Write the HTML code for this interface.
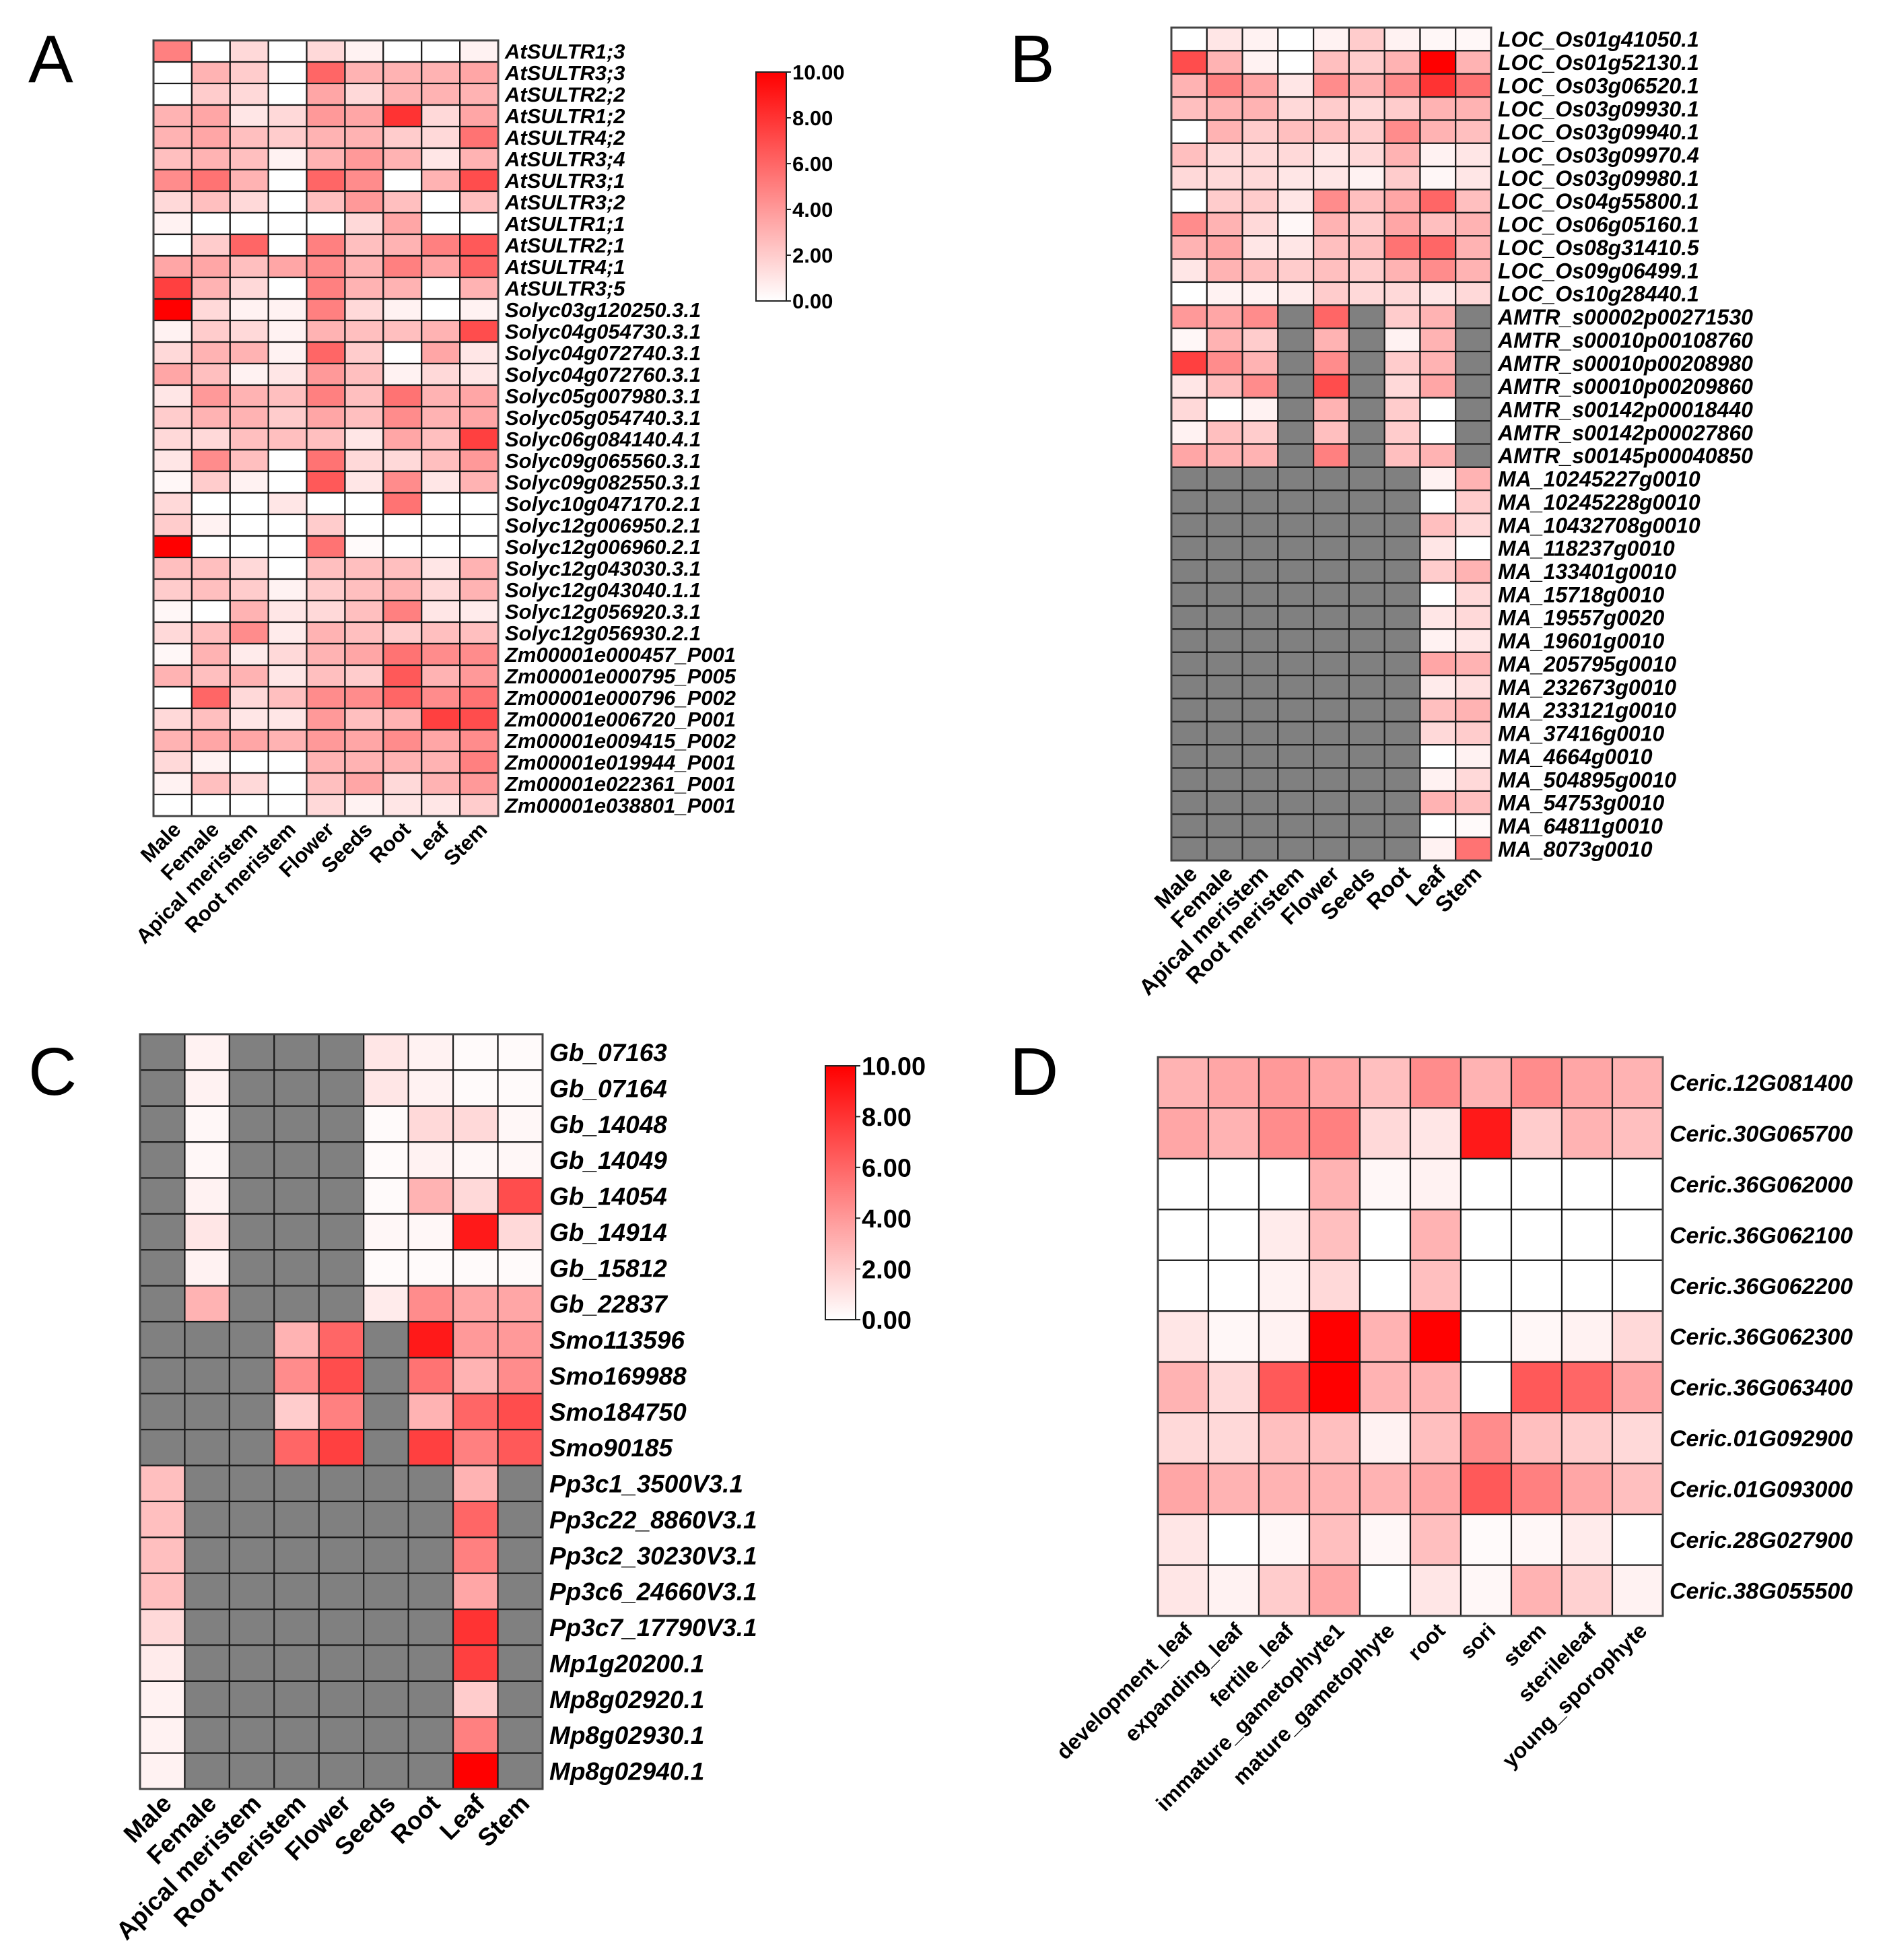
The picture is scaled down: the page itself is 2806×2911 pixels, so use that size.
<!DOCTYPE html>
<html><head><meta charset="utf-8"><style>
html,body{margin:0;padding:0;background:#fff;}
svg{display:block;}
text{font-family:"Liberation Sans",Arial,sans-serif;font-weight:bold;}
</style></head><body>
<svg id="fig" xmlns="http://www.w3.org/2000/svg" width="2806" height="2911" viewBox="0 0 2806 2911">
<defs>
<linearGradient id="cbgrad" x1="0" y1="1" x2="0" y2="0">
<stop offset="0" stop-color="#ffffff"/><stop offset="1" stop-color="#ff0000"/>
</linearGradient>
</defs>
<text x="42" y="122" font-size="100" style="font-weight:normal">A</text>
<text x="1500" y="122" font-size="100" style="font-weight:normal">B</text>
<text x="42" y="1626" font-size="100" style="font-weight:normal">C</text>
<text x="1500" y="1626" font-size="100" style="font-weight:normal">D</text>
</svg>
<script>
// ---------- data ----------
const tissueCols = ["Male","Female","Apical meristem","Root meristem","Flower","Seeds","Root","Leaf","Stem"];
const fernCols = ["development_leaf","expanding_leaf","fertile_leaf","immature_gametophyte1","mature_gametophyte","root","sori","stem","sterileleaf","young_sporophyte"];
const cbTicks = ["0.00","2.00","4.00","6.00","8.00","10.00"];
const cbTickValues = [0,2,4,6,8,10];

const genesA = ["AtSULTR1;3","AtSULTR3;3","AtSULTR2;2","AtSULTR1;2","AtSULTR4;2","AtSULTR3;4","AtSULTR3;1","AtSULTR3;2","AtSULTR1;1","AtSULTR2;1","AtSULTR4;1","AtSULTR3;5","Solyc03g120250.3.1","Solyc04g054730.3.1","Solyc04g072740.3.1","Solyc04g072760.3.1","Solyc05g007980.3.1","Solyc05g054740.3.1","Solyc06g084140.4.1","Solyc09g065560.3.1","Solyc09g082550.3.1","Solyc10g047170.2.1","Solyc12g006950.2.1","Solyc12g006960.2.1","Solyc12g043030.3.1","Solyc12g043040.1.1","Solyc12g056920.3.1","Solyc12g056930.2.1","Zm00001e000457_P001","Zm00001e000795_P005","Zm00001e000796_P002","Zm00001e006720_P001","Zm00001e009415_P002","Zm00001e019944_P001","Zm00001e022361_P001","Zm00001e038801_P001"];
const valuesA = [
[5,0,1.5,0,1.5,0.5,0,0,0.5],[0,3,2,0,6,3,3,3,3.5],[0,2,1.5,0,3.5,1.5,3,3,3],[3,3.5,1,1.5,4,3.5,8,1.5,3.5],
[3,3.5,2.5,2,3,3,2,1.5,5.5],[2.5,3,2.5,0.5,3,4,3,1,3],[4.5,5.5,3,0,6,4.5,0,3,7],[1.5,2.5,1.5,0,2.5,4,2.5,0,2.5],
[0.5,0,0,0,0,1.5,3.5,0,0],[0,2,6,0,5,2.5,3,5,6.5],[3.5,3.5,2.5,3.5,4.5,3,5,3.5,6],[7.5,3,1.5,0,5,3,3,0,3],
[10,1.5,0.5,0.5,5,1.5,0.5,0,0.5],[0.5,2,1.5,0.5,3,2.5,2.5,3,7],[1.5,3,3,0.5,6,2,0,3.5,1],[3.5,2.5,0.5,1,4,2.5,0.5,1.5,1],
[1,4,3,2.5,5,2.5,5.5,3,3.5],[2,3,3,2,3.5,2.5,4.5,3,3.5],[1.5,1.5,2.5,2.5,2.5,1,3.5,2.5,7.5],[1,4.5,2.5,0,5.5,1.5,1.5,2.5,4],
[0.3,2,0.5,0,6.5,1,4.5,1,3],[1.5,0,0,1,0,0,5.5,0,0],[2,0.5,0,0,2,0,0,0,0],[10,0,0,0,5.5,0.2,0,0,0],
[2.5,2.5,1.5,0,2.5,2.5,2.5,1,3],[2,2.5,2,0.5,2,2.5,3,1.5,3],[0.3,0,3,1,1.5,2.5,5,1,0.8],[1.5,2.5,4.5,0.8,3,2.5,2,2.5,2.5],
[0.3,3,0.8,1.5,3,3.5,5.5,4.5,4.5],[3,2.5,3,1,2.5,2,6.5,3,4],[0,6,1.5,2.5,4.5,4.5,6,4.5,5.5],[1.5,2.5,1,1,4,2.5,3,7.5,7],
[3,3.5,3.5,3,4,3.5,4.5,3.5,4.5],[1.5,0.5,0,0,3,3,3,3,5],[0.5,2.5,1.5,0,2.5,3.5,1.5,3,4],[0,0,0,0,1.5,0.5,1,1,2]];

const genesB = ["LOC_Os01g41050.1","LOC_Os01g52130.1","LOC_Os03g06520.1","LOC_Os03g09930.1","LOC_Os03g09940.1","LOC_Os03g09970.4","LOC_Os03g09980.1","LOC_Os04g55800.1","LOC_Os06g05160.1","LOC_Os08g31410.5","LOC_Os09g06499.1","LOC_Os10g28440.1","AMTR_s00002p00271530","AMTR_s00010p00108760","AMTR_s00010p00208980","AMTR_s00010p00209860","AMTR_s00142p00018440","AMTR_s00142p00027860","AMTR_s00145p00040850","MA_10245227g0010","MA_10245228g0010","MA_10432708g0010","MA_118237g0010","MA_133401g0010","MA_15718g0010","MA_19557g0020","MA_19601g0010","MA_205795g0010","MA_232673g0010","MA_233121g0010","MA_37416g0010","MA_4664g0010","MA_504895g0010","MA_54753g0010","MA_64811g0010","MA_8073g0010"];
const N = null;
const valuesB = [
[0,1,0.5,0,0.5,2,0.5,0.3,0.3],[7,3,0.5,0,2.5,2,3,10,3],[3,5,3.5,1,4.5,3,4.5,8,5.5],[2.5,3,3,1.5,2,1.5,2,3,3],
[0,3,2,2.5,2.5,2,4.5,3,2.5],[2.5,1.5,1.5,1.5,1,1.5,3,0.5,1],[1.5,1.5,1.5,1,1,0.5,2,0.3,1],[0,2,2,1,4.5,2.5,3.5,6,2.5],
[4.5,3,1.5,0.3,3,2,3.5,2.5,3],[3,3.5,1,1,2.5,2.5,5.5,6,3],[1,3,2.5,2,2.5,2,3,4.5,3],[0,0.5,0.5,0.8,2,1.5,1.5,1,1.5],
[4,3.5,4.5,N,6,N,2,3,N],[0.3,3,2,N,3,N,0.5,3,N],[7.5,4.5,3,N,4.5,N,2,3,N],[1,2.5,4.5,N,7,N,1.5,3.5,N],
[1.5,0,0.5,N,3,N,2,0,N],[0.5,2.5,2,N,2.5,N,2,0,N],[3.5,3,3,N,5,N,2.5,3,N],
[N,N,N,N,N,N,N,0.5,3],[N,N,N,N,N,N,N,0,2],[N,N,N,N,N,N,N,2.5,1.5],[N,N,N,N,N,N,N,1,0],
[N,N,N,N,N,N,N,2,3],[N,N,N,N,N,N,N,0,1.5],[N,N,N,N,N,N,N,1,1.5],[N,N,N,N,N,N,N,0.5,1],
[N,N,N,N,N,N,N,3.5,3],[N,N,N,N,N,N,N,0.8,1.2],[N,N,N,N,N,N,N,2.5,3],[N,N,N,N,N,N,N,1.5,2],
[N,N,N,N,N,N,N,0,0.5],[N,N,N,N,N,N,N,0.5,1.5],[N,N,N,N,N,N,N,3,2.5],[N,N,N,N,N,N,N,0,0.2],[N,N,N,N,N,N,N,0.5,5.5]];

const genesC = ["Gb_07163","Gb_07164","Gb_14048","Gb_14049","Gb_14054","Gb_14914","Gb_15812","Gb_22837","Smo113596","Smo169988","Smo184750","Smo90185","Pp3c1_3500V3.1","Pp3c22_8860V3.1","Pp3c2_30230V3.1","Pp3c6_24660V3.1","Pp3c7_17790V3.1","Mp1g20200.1","Mp8g02920.1","Mp8g02930.1","Mp8g02940.1"];
const valuesC = [
[N,0.5,N,N,N,1,0.5,0.2,0.2],[N,0.5,N,N,N,1,0.5,0.2,0.2],[N,0.3,N,N,N,0.2,1.5,1.5,0.3],[N,0.3,N,N,N,0.2,0.5,0.3,0.3],
[N,0.5,N,N,N,0.2,3,1.5,7],[N,1,N,N,N,0.3,0.3,9,1.5],[N,0.5,N,N,N,0.2,0.2,0.2,0.2],[N,3,N,N,N,0.8,4.5,3.5,3.5],
[N,N,N,3,6,N,9,4,4],[N,N,N,4.5,7,N,5.5,3,4.5],[N,N,N,2,5,N,3,6,7],[N,N,N,6,7.5,N,7.5,5,6.5],
[2.5,N,N,N,N,N,N,3,N],[2.5,N,N,N,N,N,N,6,N],[2.5,N,N,N,N,N,N,5,N],[2.5,N,N,N,N,N,N,3.5,N],
[1.5,N,N,N,N,N,N,8,N],[0.8,N,N,N,N,N,N,7.5,N],[0.5,N,N,N,N,N,N,2,N],[0.5,N,N,N,N,N,N,5,N],[0.5,N,N,N,N,N,N,10,N]];

const genesD = ["Ceric.12G081400","Ceric.30G065700","Ceric.36G062000","Ceric.36G062100","Ceric.36G062200","Ceric.36G062300","Ceric.36G063400","Ceric.01G092900","Ceric.01G093000","Ceric.28G027900","Ceric.38G055500"];
const valuesD = [
[3,3.5,4,3.5,2.5,4.5,3,4.5,3.5,3],[3.5,3,4.5,5,1.5,1,9,2,3,2.5],[0,0,0,3,0.3,0.5,0,0,0,0],
[0,0,0.8,2.5,0,3,0,0,0,0],[0,0,0.5,1.5,0,2.5,0,0,0,0],[1,0.3,0.5,10,3,10,0,0.3,0.5,1.5],
[3,1.5,6.5,10,3,3,0,6.5,6,3.5],[1.5,1.5,2.5,2.5,0.5,2.5,4.5,2.5,2,1.5],[3.5,3,3,3,3,3.5,6.5,5,3.5,2.5],
[1,0,0.3,2.5,0.3,2.5,0.2,0.3,0.8,0],[1,0.5,2,3.5,0,1,0.3,3,1.8,0.5]];

// ---------- rendering ----------
const NS = "http://www.w3.org/2000/svg";
const svg = document.getElementById("fig");
function mk(tag, attrs, parent){
  const e = document.createElementNS(NS, tag);
  for (const k in attrs) e.setAttribute(k, attrs[k]);
  (parent||svg).appendChild(e);
  return e;
}
function color(v){
  if (v === null) return "#808080";
  const t = Math.max(0, Math.min(1, v/10));
  const g = Math.round(255*(1-t));
  return "rgb(255,"+g+","+g+")";
}
function heatmap(id, rows, cols, vals, x0, y0, x1, y1, rowFs, colFs, colDx, colDy){
  const g = mk("g", {});
  
  
  const nr = rows.length, nc = cols.length;
  const xs = c => x0 + (x1-x0)*c/nc;
  const ys = r => y0 + (y1-y0)*r/nr;
  for (let r=0;r<nr;r++){
    for (let c=0;c<nc;c++){
      const cell = mk("rect", {x:xs(c), y:ys(r), width:xs(c+1)-xs(c), height:ys(r+1)-ys(r), fill:color(vals[r][c]), stroke:"#1a1a1a", "stroke-width":2.2}, g);
      
      
    }
  }
  const border = mk("rect", {x:x0, y:y0, width:x1-x0, height:y1-y0, fill:"none", stroke:"#444", "stroke-width":3}, g);
  
  
  for (let r=0;r<nr;r++){
    const t = mk("text", {x:x1+10, y:(ys(r)+ys(r+1))/2 + rowFs*0.36, "font-size":rowFs, "font-style":"italic"}, g);
    t.textContent = rows[r];
    
    
  }
  for (let c=0;c<nc;c++){
    const cx = (xs(c)+xs(c+1))/2 + colDx, cy = y1 + colDy;
    const t = mk("text", {x:cx, y:cy, "font-size":colFs, "text-anchor":"end", transform:"rotate(-45 "+cx+" "+cy+")"}, g);
    t.textContent = cols[c];
    
    
  }
}
function colorbar(id, x, y, w, h, fs){
  const g = mk("g", {});
  
  
  const bar = mk("rect", {x:x, y:y, width:w, height:h, fill:"url(#cbgrad)", stroke:"#222", "stroke-width":2}, g);
  
  
  for (let i=0;i<cbTickValues.length;i++){
    const ty = y + h - h*cbTickValues[i]/10;
    const tk = mk("line", {x1:x+w, y1:ty, x2:x+w+7, y2:ty, stroke:"#222", "stroke-width":2}, g);
    
    
    const t = mk("text", {x:x+w+9, y:ty+fs*0.36, "font-size":fs}, g);
    t.textContent = cbTicks[i];
    
    
  }
}
heatmap("panel-a", genesA, tissueCols, valuesA, 228, 60, 740, 1212, 31, 31, 14, 22);
colorbar("colorbar-a", 1123, 107, 45, 340, 31);
heatmap("panel-b", genesB, tissueCols, valuesB, 1740, 41, 2215, 1278, 32, 33, 14, 22);
heatmap("panel-c", genesC, tissueCols, valuesC, 208, 1536, 806, 2657, 37, 37, 16, 24);
colorbar("colorbar-c", 1226, 1583, 45, 377, 38);
heatmap("panel-d", genesD, fernCols, valuesD, 1720, 1570, 2470, 2400, 34, 32, 16, 24);
</script>
</body></html>
